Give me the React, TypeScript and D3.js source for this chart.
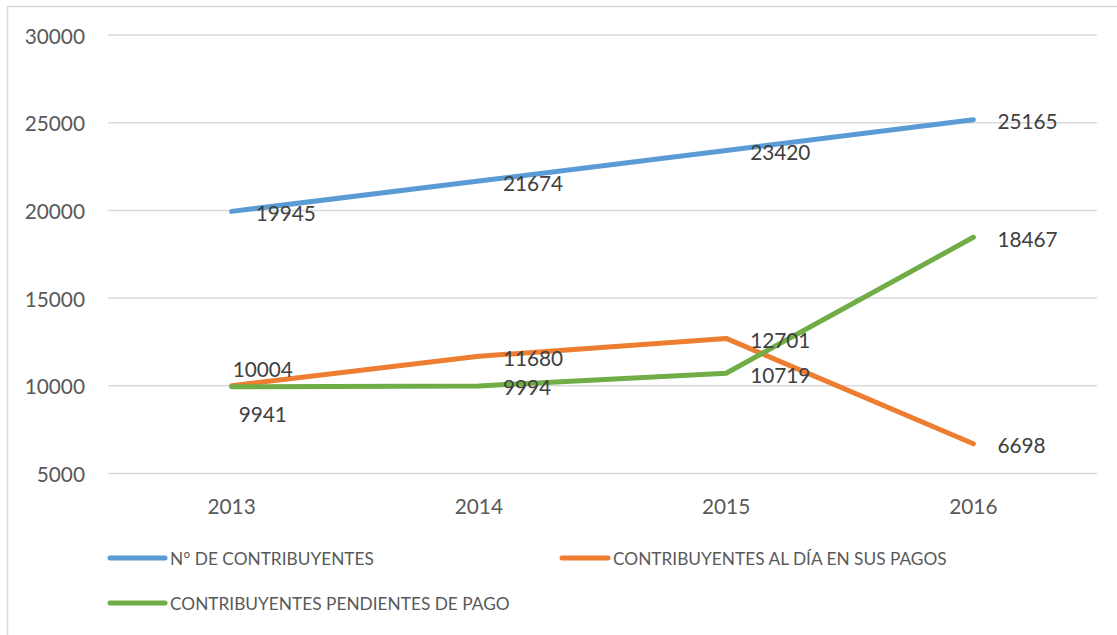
import React from 'react';
import * as d3 from 'd3';

const years = ['2013', '2014', '2015', '2016'];
const totalContribuyentes = [19945, 21674, 23420, 25165];
const alDia = [10004, 11680, 12701, 6698];
const pendientes = [9941, 9994, 10719, 18467];
const yTicks = [5000, 10000, 15000, 20000, 25000, 30000];

const seriesNames = [
  'N° DE CONTRIBUYENTES',
  'CONTRIBUYENTES AL DÍA EN SUS PAGOS',
  'CONTRIBUYENTES PENDIENTES DE PAGO',
];
const seriesColors = ['#5B9BD5', '#ED7D31', '#70AD47'];

const W = 1117;
const H = 635;
const FONT = 'Lato, "Open Sans", sans-serif';
const TEXT = '#595959';

const App = () => {
  const x = d3.scaleBand().domain(years).range([108, 1097]);
  const cx = (d: string) => (x(d) as number) + x.bandwidth() / 2;
  const y = d3.scaleLinear().domain([5000, 30000]).range([473.5, 35]);

  const series = [totalContribuyentes, alDia, pendientes];
  const line = d3
    .line<number>()
    .x((_, i) => cx(years[i]))
    .y((d) => y(d));

  // label nudges (dx, dy) where excel moved a label off the default "right" spot
  const labelNudge = (s: number, i: number) => {
    if (s === 1 && i === 0) return [1, -17];
    if (s === 2 && i === 0) return [7, 27];
    return [24, 1];
  };

  // legend layout
  const legend = [
    { x: 110, y: 558 },
    { x: 562, y: 558 },
    { x: 110, y: 603 },
  ];

  return (
    <svg
      width={W}
      height={H}
      style={{ position: 'absolute', left: 0, top: 0, background: '#fff' }}
      fontFamily={FONT}
    >
      <rect x={7.5} y={6.5} width={W + 10} height={H + 10} fill="#fff" stroke="#d9d9d9" strokeWidth={1.5} />

      {/* grid + y labels */}
      {yTicks.map((t) => (
        <g key={t}>
          <line x1={108} x2={1097} y1={y(t)} y2={y(t)} stroke="#d9d9d9" strokeWidth={1.5} />
          <text x={85} y={y(t)} textAnchor="end" dominantBaseline="central" fontSize={20.8} fill={TEXT}>
            {t}
          </text>
        </g>
      ))}

      {/* x labels */}
      {years.map((yr) => (
        <text key={yr} x={cx(yr)} y={505} textAnchor="middle" dominantBaseline="central" fontSize={20.8} fill={TEXT}>
          {yr}
        </text>
      ))}

      {/* lines */}
      {series.map((vals, s) => (
        <path
          key={s}
          d={line(vals) as string}
          fill="none"
          stroke={seriesColors[s]}
          strokeWidth={5}
          strokeLinecap="round"
          strokeLinejoin="round"
        />
      ))}

      {/* data labels */}
      {series.map((vals, s) =>
        vals.map((v, i) => {
          const [dx, dy] = labelNudge(s, i);
          return (
            <text
              key={`${s}-${i}`}
              x={cx(years[i]) + dx}
              y={y(v) + dy}
              dominantBaseline="central"
              fontSize={20.8}
              fill="#404040"
            >
              {v}
            </text>
          );
        })
      )}

      {/* legend */}
      {seriesNames.map((name, s) => (
        <g key={name} transform={`translate(${legend[s].x},${legend[s].y})`}>
          <line x1={0} x2={(s === 1 ? 46 : 55)} y1={0} y2={0} stroke={seriesColors[s]} strokeWidth={5} strokeLinecap="round" />
          <text x={s === 1 ? 51 : 60} y={0} dominantBaseline="central" fontSize={17.3} fill={TEXT}>
            {name}
          </text>
        </g>
      ))}
    </svg>
  );
};

export default App;
